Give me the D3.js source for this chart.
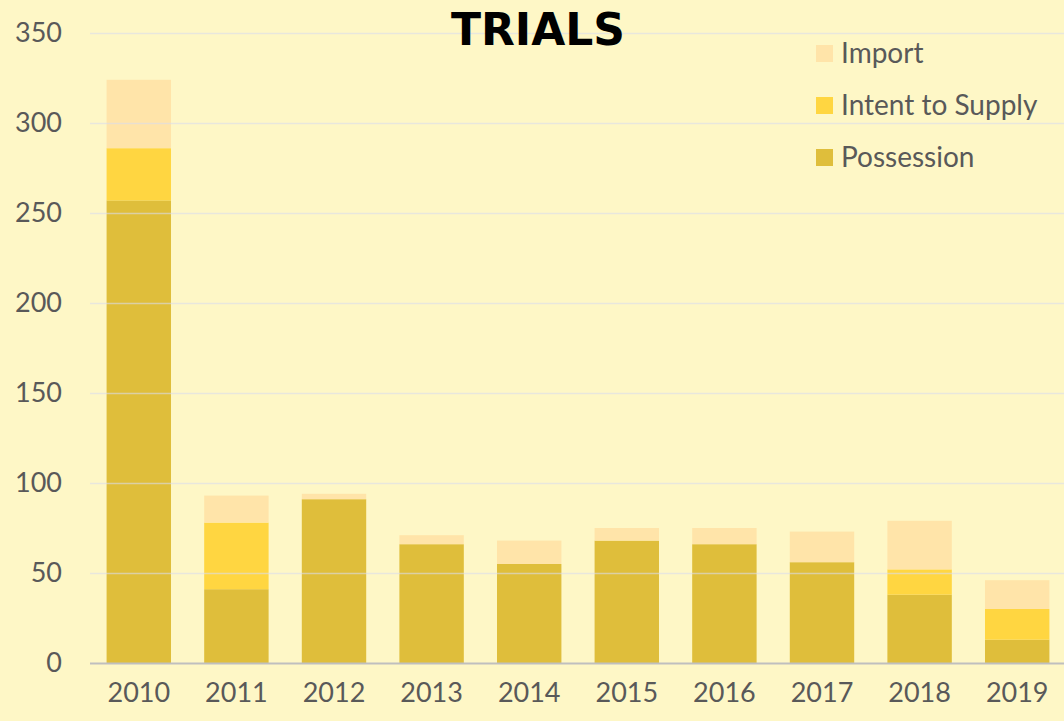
<!DOCTYPE html>
<html>
<head>
<meta charset="utf-8">
<script src="https://cdn.jsdelivr.net/npm/d3@7"></script>
<style>
  html, body { margin: 0; padding: 0; background: #FEF7C6; }
</style>
</head>
<body>
<div id="chart"></div>
<script>
const years = ['2010', '2011', '2012', '2013', '2014', '2015', '2016', '2017', '2018', '2019'];
const possession = [257, 41, 91, 66, 55, 68, 66, 56, 38, 13];
const intentToSupply = [29, 37, 0, 0, 0, 0, 0, 0, 14, 17];
const importVals = [38, 15, 3, 5, 13, 7, 9, 17, 27, 16];
const yTicks = [0, 50, 100, 150, 200, 250, 300, 350];

const width = 1064;
const height = 721;
const margin = { top: 33, right: -2, bottom: 58, left: 90 };

const seriesKeys = ['Possession', 'Intent to Supply', 'Import'];
const table = years.map((y, i) => ({
    year: y,
    'Possession': possession[i],
    'Intent to Supply': intentToSupply[i],
    'Import': importVals[i]
}));
const stacked = d3.stack().keys(seriesKeys)(table);

const color = d3.scaleOrdinal()
    .domain(seriesKeys)
    .range(['#DFBE3B', '#FFD641', '#FFE4A9']);

const x = d3.scaleBand()
    .domain(years)
    .range([margin.left, width - margin.right])
    .paddingInner(0.34)
    .paddingOuter(0.17);

const y = d3.scaleLinear()
    .domain([0, 350])
    .range([height - margin.bottom, margin.top]);

const svg = d3.select('#chart')
    .append('svg')
    .attr('width', width)
    .attr('height', height)
    .style('display', 'block');

svg.append('rect')
    .attr('width', width)
    .attr('height', height)
    .attr('fill', '#FEF7C6');

// bars
svg.append('g')
    .selectAll('g')
    .data(stacked)
    .join('g')
    .attr('fill', d => color(d.key))
    .selectAll('rect')
    .data(d => d)
    .join('rect')
    .attr('x', d => x(d.data.year))
    .attr('y', d => y(d[1]))
    .attr('width', x.bandwidth())
    .attr('height', d => y(d[0]) - y(d[1]));

// gridlines (drawn over the bars, they show through in the original)
svg.append('g')
    .selectAll('line')
    .data(yTicks.filter(t => t > 0))
    .join('line')
    .attr('x1', margin.left)
    .attr('x2', width)
    .attr('y1', d => y(d) + 0.5)
    .attr('y2', d => y(d) + 0.5)
    .attr('stroke', '#D8DCEC')
    .attr('stroke-opacity', 0.6)
    .attr('stroke-width', 1.5);

// baseline
svg.append('line')
    .attr('x1', margin.left)
    .attr('x2', width)
    .attr('y1', y(0) + 0.5)
    .attr('y2', y(0) + 0.5)
    .attr('stroke', '#BFBFBF')
    .attr('stroke-width', 2);

// y axis
const yAxis = svg.append('g')
    .attr('transform', `translate(${margin.left}, 0)`)
    .call(d3.axisLeft(y).tickValues(yTicks).tickSize(0).tickPadding(28));
yAxis.select('.domain').remove();
yAxis.selectAll('text')
    .attr('font-family', 'Lato, sans-serif')
    .attr('font-size', '27px')
    .attr('fill', '#595959');

// x axis
const xAxis = svg.append('g')
    .attr('transform', `translate(0, ${height - margin.bottom})`)
    .call(d3.axisBottom(x).tickSize(0).tickPadding(20));
xAxis.select('.domain').remove();
xAxis.selectAll('text')
    .attr('font-family', 'Lato, sans-serif')
    .attr('font-size', '27px')
    .attr('fill', '#595959');

// title
svg.append('text')
    .attr('x', 538)
    .attr('y', 45)
    .attr('text-anchor', 'middle')
    .attr('font-family', 'DejaVu Sans, sans-serif')
    .attr('font-weight', 'bold')
    .attr('font-size', '44px')
    .attr('fill', '#000000')
    .text('TRIALS');

// legend
const legendItems = ['Import', 'Intent to Supply', 'Possession'];
const legend = svg.append('g')
    .attr('transform', 'translate(816, 53)');

const entries = legend.selectAll('g')
    .data(legendItems)
    .join('g')
    .attr('transform', (d, i) => `translate(0, ${i * 52})`);

entries.append('rect')
    .attr('x', 0)
    .attr('y', -8)
    .attr('width', 17)
    .attr('height', 17)
    .attr('fill', d => color(d));

entries.append('text')
    .attr('x', 25)
    .attr('y', 10)
    .attr('font-family', 'Lato, sans-serif')
    .attr('font-size', '28px')
    .attr('fill', '#595959')
    .text(d => d);
</script>
</body>
</html>
